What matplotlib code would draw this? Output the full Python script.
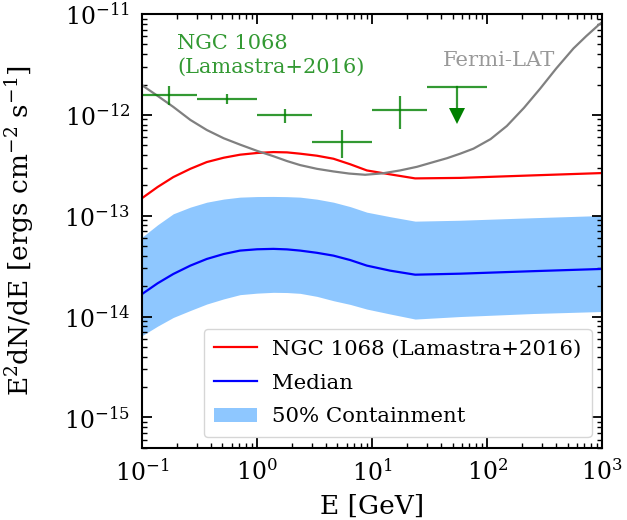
import numpy as np
import matplotlib
matplotlib.use("Agg")
import matplotlib.pyplot as plt
from matplotlib.ticker import FixedLocator, LogLocator, NullFormatter

plt.rcParams['font.family'] = ['DejaVu Serif']
plt.rcParams['mathtext.fontset'] = 'dejavuserif'

# ---- data (log10 values) ----
model_logE = [-1.0, -0.864, -0.728, -0.58, -0.437, -0.29, -0.148, 0.0, 0.142, 0.26, 0.374,
              0.52, 0.664, 0.81, 0.954, 1.157, 1.374, 1.765, 2.4, 3.0]
ngc_model_logF = [-12.826, -12.715, -12.617, -12.535, -12.468, -12.425, -12.395, -12.378, -12.369, -12.372, -12.385,
                  -12.405, -12.435, -12.49, -12.551, -12.59, -12.630, -12.625, -12.60, -12.577]
median_logF = [-13.777, -13.67, -13.578, -13.495, -13.429, -13.38, -13.346, -13.333, -13.329, -13.334, -13.346,
               -13.368, -13.396, -13.44, -13.495, -13.545, -13.585, -13.575, -13.55, -13.528]
band_hi_logF = [-13.213, -13.09, -12.981, -12.915, -12.866, -12.835, -12.816, -12.81, -12.809, -12.811, -12.816,
                -12.836, -12.866, -12.91, -12.965, -13.01, -13.054, -13.045, -13.02, -12.998]
band_lo_logF = [-14.19, -14.095, -14.009, -13.94, -13.876, -13.825, -13.783, -13.768, -13.76, -13.762, -13.77,
                -13.80, -13.843, -13.88, -13.926, -13.975, -14.025, -14.0, -13.97, -13.95]

fermi_logE = [-1.0, -0.864, -0.728, -0.58, -0.437, -0.29, -0.148, 0.0, 0.142, 0.26, 0.374, 0.52, 0.664,
              0.8, 0.939, 1.09, 1.243, 1.39, 1.533, 1.65, 1.765, 1.881, 2.03, 2.171, 2.32, 2.461, 2.6,
              2.75, 2.86, 2.968, 3.0]
fermi_logF = [-11.706, -11.812, -11.921, -12.05, -12.15, -12.232, -12.295, -12.357, -12.41, -12.458, -12.498,
              -12.535, -12.561, -12.582, -12.594, -12.58, -12.551, -12.515, -12.468, -12.43, -12.385,
              -12.335, -12.24, -12.11, -11.93, -11.739, -11.54, -11.341, -11.22, -11.109, -11.08]

# NGC 1068 Fermi data points (Lamastra+2016)
bin_lo = [0.1, 0.3, 1.0, 3.0, 10.0]
bin_hi = [0.3, 1.0, 3.0, 10.0, 30.0]
pt_flux = [1.59e-12, 1.45e-12, 9.9e-13, 5.38e-13, 1.11e-12]
pt_up = [1.92e-12, 1.60e-12, 1.156e-12, 7.03e-13, 1.54e-12]
pt_dn = [1.245e-12, 1.29e-12, 8.3e-13, 3.76e-13, 7.2e-13]
ul_lo, ul_hi, ul_flux = 30.0, 100.0, 1.90e-12

x_decades = [-1, 0, 1, 2, 3]
y_decades = [-15, -14, -13, -12, -11]

fig = plt.figure(figsize=(6.27, 5.2), dpi=100)
ax = fig.add_axes([0.2265, 0.139, 0.734, 0.834])

E_m = 10.0 ** np.array(model_logE)
E_f = 10.0 ** np.array(fermi_logE)

band = ax.fill_between(E_m, 10.0 ** np.array(band_lo_logF), 10.0 ** np.array(band_hi_logF),
                       color='dodgerblue', alpha=0.5, lw=0, label='50% Containment')
l_red, = ax.plot(E_m, 10.0 ** np.array(ngc_model_logF), color='red', lw=1.6,
                 label='NGC 1068 (Lamastra+2016)')
l_blue, = ax.plot(E_m, 10.0 ** np.array(median_logF), color='blue', lw=1.6, label='Median')
ax.plot(E_f, 10.0 ** np.array(fermi_logF), color='gray', lw=1.6)

lo = np.array(bin_lo); hi = np.array(bin_hi)
xc = np.sqrt(lo * hi)
f = np.array(pt_flux)
ax.errorbar(xc, f, xerr=[xc - lo, hi - xc],
            yerr=[f - np.array(pt_dn), np.array(pt_up) - f],
            fmt='none', ecolor='green', alpha=0.8, elinewidth=1.6, capsize=0)

# upper limit
xu = np.sqrt(ul_lo * ul_hi)
ax.errorbar([xu], [ul_flux], xerr=[[xu - ul_lo], [ul_hi - xu]],
            fmt='none', ecolor='green', alpha=0.8, elinewidth=1.6, capsize=0)
tip = ul_flux / 10 ** 0.35
ax.plot([xu, xu], [ul_flux, tip * 10 ** 0.08], color='green', alpha=0.8, lw=1.6)
ax.plot([xu], [tip * 10 ** 0.065], marker='v', color='green', ms=11, mew=0, ls='none')

ax.set_xscale('log')
ax.set_yscale('log')
ax.set_xlim(0.1, 1000)
ax.set_ylim(5e-16, 1e-11)
ax.xaxis.set_major_locator(FixedLocator(10.0 ** np.array(x_decades)))
ax.yaxis.set_major_locator(FixedLocator(10.0 ** np.array(y_decades)))
ax.xaxis.set_minor_locator(LogLocator(base=10, subs=np.arange(2, 10)))
ax.yaxis.set_minor_locator(LogLocator(base=10, subs=np.arange(2, 10)))
ax.xaxis.set_minor_formatter(NullFormatter())
ax.yaxis.set_minor_formatter(NullFormatter())

ax.text(0.076, 0.954, 'NGC 1068\n(Lamastra+2016)', transform=ax.transAxes,
        color='green', alpha=0.8, fontsize=15, va='top', ha='left', linespacing=1.35)
ax.text(0.654, 0.894, 'Fermi-LAT', transform=ax.transAxes,
        color='gray', alpha=0.8, fontsize=15.3, va='center', ha='left')

ax.set_xlabel('E [GeV]', fontsize=19)
ax.set_ylabel(r'E$^2$dN/dE [ergs cm$^{-2}$ s$^{-1}$]', fontsize=19)
ax.xaxis.set_label_coords(0.5, -0.107)
ax.yaxis.set_label_coords(-0.2304, 0.5)

ax.tick_params(which='both', direction='in', top=True, right=True, labelsize=17, pad=8.5)
ax.tick_params(which='major', length=7, width=1.3)
ax.tick_params(which='minor', length=3.5, width=1.0)
for s in ax.spines.values():
    s.set_linewidth(1.5)

ax.legend([l_red, l_blue, band], ['NGC 1068 (Lamastra+2016)', 'Median', '50% Containment'],
          loc='lower right', fontsize=15.3, handlelength=2.0, labelspacing=0.7,
          borderpad=0.5, handletextpad=0.7)

fig.savefig('out.png', dpi=100)
